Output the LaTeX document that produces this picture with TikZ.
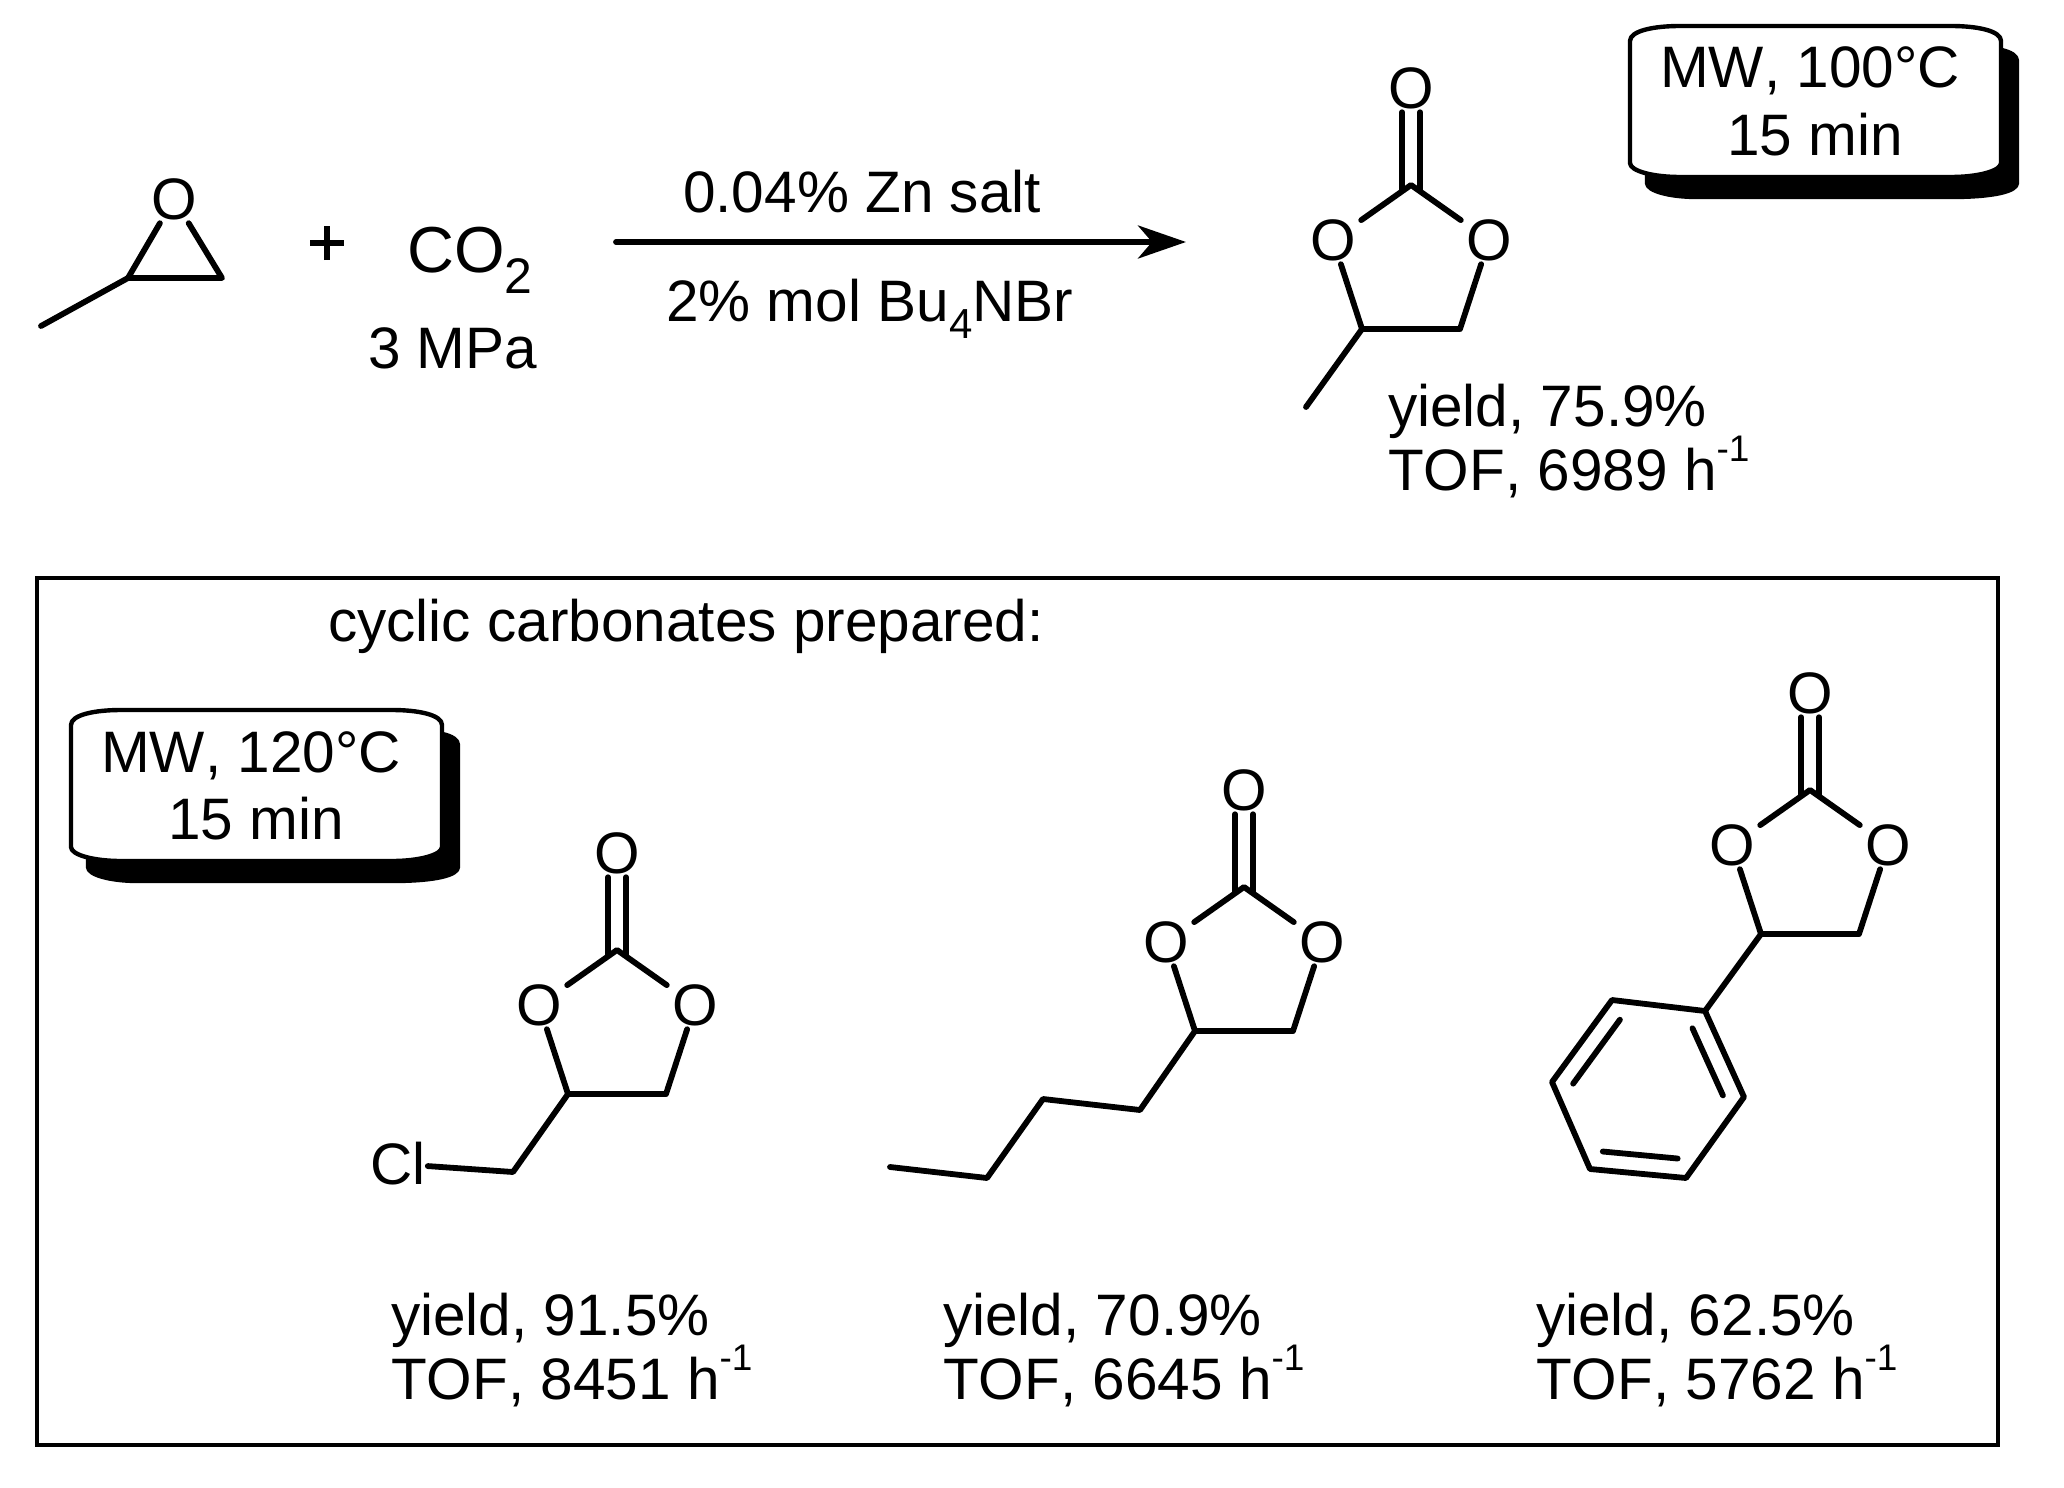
\documentclass[tikz,border=0pt]{standalone}
\usepackage{fontspec}
\setmainfont[Kerning=Off]{Liberation Sans}
\usetikzlibrary{calc,arrows.meta}
\newcommand\subtxt[1]{\raisebox{-0.3em}{\fontsize{42}{42}\selectfont #1}}
\newcommand\subco[1]{\raisebox{-0.33em}{\fontsize{50}{50}\selectfont #1}}
\newcommand\suptxt[1]{\raisebox{0.48em}{\fontsize{37}{37}\selectfont #1}}
\tikzset{
  bond/.style={line width=5.8pt,line cap=round,line join=round,draw=black},
  txt/.style={font=\fontsize{58.5}{66}\selectfont,inner sep=0pt,anchor=base west},
  ctxt/.style={font=\fontsize{58.5}{66}\selectfont,inner sep=0pt,anchor=base},
  atom/.style={font=\fontsize{58.5}{66}\selectfont,inner sep=0pt,minimum width=56pt,minimum height=48pt,anchor=center},
  frameline/.style={line width=3.8pt,draw=black},
  mwline/.style={line width=4.4pt,draw=black,fill=white,line join=round},
  mwshadow/.style={line width=4.4pt,draw=black,fill=black,line join=round},
}
% carbonate ring: name, x of carbonyl C, y of carbonyl C
\newcommand\carbonate[3]{%
  \begin{scope}[shift={(#2,#3)}]
    \coordinate (#1C) at (0,0);
    \node[atom] (#1Ot) at (0,-97) {O};
    \node[atom] (#1Ol) at (-78,55) {O};
    \node[atom] (#1Or) at (78,55) {O};
    \coordinate (#1CH) at (-49,144);
    \coordinate (#1CC) at (49,144);
    \coordinate (#1Ca) at (-9,5);
    \coordinate (#1Cb) at (9,5);
  \end{scope}
  \draw[bond] ([xshift=-9pt]#1Ot.south) -- (#1Ca);
  \draw[bond] ([xshift=9pt]#1Ot.south) -- (#1Cb);
  \draw[bond] (#1Ol) -- (#1C) -- (#1Or);
  \draw[bond] (#1Ol) -- (#1CH) -- (#1CC) -- (#1Or);
}
% microwave label: name, x, y, first line, second line
\newcommand\mwbox[5]{%
  \begin{scope}[shift={(#2,#3)}]
    \draw[mwshadow] (17,35) .. controls (17,25) and (40,20) .. (67,20) -- (321,20)
      .. controls (365,20) and (387,25) .. (387,35) -- (387,157)
      .. controls (387,165) and (365,171) .. (321,171) -- (67,171)
      .. controls (40,171) and (17,165) .. (17,157) -- cycle;
    \draw[mwline] (0,15) .. controls (0,5) and (23,0) .. (50,0) -- (321,0)
      .. controls (348,0) and (371,5) .. (371,15) -- (371,137)
      .. controls (371,145) and (348,151) .. (321,151) -- (50,151)
      .. controls (23,151) and (0,145) .. (0,137) -- cycle;
    \node[ctxt] (#1a) at (180,62) {#4};
    \node[ctxt] (#1b) at (185,129) {#5};
  \end{scope}
}
\begin{document}
\begin{tikzpicture}[x=1pt,y=-1pt]
\useasboundingbox (0,0) rectangle (2064,1488);
\fill[white] (0,0) rectangle (2064,1488);

% epoxide
\node[atom] (epO) at (174,199) {O};
\coordinate (epCH) at (128,278);
\coordinate (epCC) at (222,278);
\coordinate (epMe) at (41,326);
\draw[bond] (epO) -- (epCH) -- (epCC) -- (epO);
\draw[bond] (epCH) -- (epMe);

\coordinate (plusC) at (327,243);
\draw[line width=6.4pt] ([xshift=-17pt]plusC) -- ([xshift=17pt]plusC);
\draw[line width=6.4pt] ([yshift=-17pt]plusC) -- ([yshift=17pt]plusC);
\node[txt,font=\fontsize{65}{70}\selectfont] (co2) at (407,272) {CO\subco{2}};
\node[txt] (mpa) at (368,368) {3 MPa};

% reaction arrow
\coordinate (arrS) at (616,242);
\coordinate (arrE) at (1186,242);
\draw[bond,-{Stealth[length=48pt,width=33pt,inset=14pt]}] (arrS) -- (arrE);
\node[txt] (cat) at (683,212) {0.04\% Zn salt};
\node[txt] (cocat) at (666,321) {2\% mol Bu\subtxt{4}NBr};

% top product
\carbonate{pa}{1411}{185}
\coordinate (paMe) at (1306,407);
\draw[bond] (paCH) -- (paMe);
\node[txt] (pay) at (1388,426) {yield, 75.9\%};
\node[txt] (pat) at (1388,490) {TOF, 6989 h\suptxt{-1}};
\mwbox{mwa}{1630}{26}{MW, 100°C}{15 min}

% frame
\node[draw=none,inner sep=0pt,minimum size=0pt] (frameNW) at (37,578) {};
\node[draw=none,inner sep=0pt,minimum size=0pt] (frameSE) at (1998,1445) {};
\draw[frameline] (frameNW.center) rectangle (frameSE.center);
\node[txt] (title) at (328,641) {cyclic carbonates prepared:};
\mwbox{mwb}{71}{710}{MW, 120°C}{15 min}

% chloromethyl
\carbonate{pb}{617}{950}
\coordinate (pbC1) at (513,1172);
\node[font=\fontsize{58.5}{66}\selectfont,inner sep=2pt] (pbCl) at (398,1164) {Cl};
\draw[bond] (pbCH) -- (pbC1) -- (pbCl);
\node[txt] (pby) at (391,1335) {yield, 91.5\%};
\node[txt] (pbt) at (391,1399) {TOF, 8451 h\suptxt{-1}};

% butyl
\carbonate{pc}{1244}{887}
\coordinate (pcC1) at (1140,1110);
\coordinate (pcC2) at (1043,1099);
\coordinate (pcC3) at (987,1178);
\coordinate (pcC4) at (890,1167);
\draw[bond] (pcCH) -- (pcC1) -- (pcC2) -- (pcC3) -- (pcC4);
\node[txt] (pcy) at (943,1335) {yield, 70.9\%};
\node[txt] (pct) at (943,1399) {TOF, 6645 h\suptxt{-1}};

% phenyl
\carbonate{pd}{1810}{790}
\coordinate (ph1) at (1705,1011);
\coordinate (ph2) at (1744,1097);
\coordinate (ph3) at (1686,1178);
\coordinate (ph4) at (1590,1169);
\coordinate (ph5) at (1552,1082);
\coordinate (ph6) at (1612,1000);
\coordinate (phc) at (1648,1089.5);
\draw[bond] (pdCH) -- (ph1);
\draw[bond] (ph1) -- (ph2) -- (ph3) -- (ph4) -- (ph5) -- (ph6) -- cycle;
\draw[bond] ($(phc)!0.78!(ph1)$) -- ($(phc)!0.78!(ph2)$);
\draw[bond] ($(phc)!0.78!(ph3)$) -- ($(phc)!0.78!(ph4)$);
\draw[bond] ($(phc)!0.78!(ph5)$) -- ($(phc)!0.78!(ph6)$);
\node[txt] (pdy) at (1536,1335) {yield, 62.5\%};
\node[txt] (pdt) at (1536,1399) {TOF, 5762 h\suptxt{-1}};
\end{tikzpicture}
\end{document}
